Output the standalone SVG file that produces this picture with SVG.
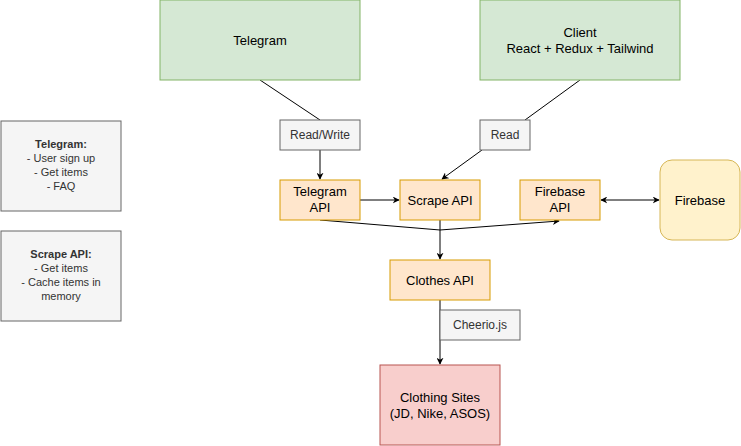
<svg xmlns="http://www.w3.org/2000/svg" width="741" height="446" viewBox="0 0 741 446">
<defs><marker id="a" viewBox="0 0 10 10" refX="9" refY="5" markerWidth="7" markerHeight="7" orient="auto-start-reverse"><path d="M0,0 L10,5 L0,10 L3,5 Z" fill="#000"/></marker></defs>
<style>
text{font-family:"Liberation Sans",Arial,sans-serif;font-size:13px;text-anchor:middle}
.g{fill:#d5e8d4;stroke:#82b366}.o{fill:#ffe6cc;stroke:#d79b00}.y{fill:#fff2cc;stroke:#d6b656}.r{fill:#f8cecc;stroke:#b85450}.l{fill:#f5f5f5;stroke:#666}
.lt{fill:#333;font-size:12px}
.n{fill:#333;font-size:11px}
.c{fill:none;stroke:#000;stroke-width:1}
</style>
<rect width="741" height="446" fill="#fff"/>
<g id="connectors">
<path class="c" d="M260,80 L320,120"/>
<path class="c" d="M580,80 L525,120"/>
<path class="c" d="M320,150 L320,179" marker-end="url(#a)"/>
<path class="c" d="M482,150 L442,179" marker-end="url(#a)"/>
<path class="c" d="M360,200 L399,200" marker-end="url(#a)"/>
<path class="c" d="M601,200 L659,200" marker-start="url(#a)" marker-end="url(#a)"/>
<path class="c" d="M440,220 L440,259" marker-end="url(#a)"/>
<path class="c" d="M320,220 L440,230 L559,221" marker-end="url(#a)"/>
<path class="c" d="M440,300 L440,364" marker-end="url(#a)"/>
</g>
<g id="telegram"><rect class="g" x="160" y="0" width="200" height="80"/><text x="260" y="45">Telegram</text></g>
<g id="client"><rect class="g" x="480" y="0" width="200" height="80"/><text x="580" y="37">Client</text><text x="580" y="53">React + Redux + Tailwind</text></g>
<g id="rw"><rect class="l" x="280" y="120" width="80" height="30"/><text class="lt" x="320" y="139">Read/Write</text></g>
<g id="read"><rect class="l" x="480" y="120" width="50" height="30"/><text class="lt" x="505" y="139">Read</text></g>
<g id="tapi"><rect class="o" x="280" y="180" width="80" height="40"/><text x="320" y="196">Telegram</text><text x="320" y="212">API</text></g>
<g id="sapi"><rect class="o" x="400" y="180" width="80" height="40"/><text x="440" y="205">Scrape API</text></g>
<g id="fapi"><rect class="o" x="520" y="180" width="80" height="40"/><text x="560" y="196">Firebase</text><text x="560" y="212">API</text></g>
<g id="firebase"><rect class="y" x="660" y="160" width="80" height="80" rx="12"/><text x="700" y="205">Firebase</text></g>
<g id="capi"><rect class="o" x="390" y="260" width="100" height="40"/><text x="440" y="285">Clothes API</text></g>
<g id="cheerio"><rect class="l" x="440" y="310" width="80" height="30"/><text class="lt" x="480" y="329">Cheerio.js</text></g>
<g id="sites"><rect class="r" x="380" y="365" width="120" height="80"/><text x="440" y="402">Clothing Sites</text><text x="440" y="418">(JD, Nike, ASOS)</text></g>
<g id="note1"><rect class="l" x="1" y="121" width="120" height="90"/>
<text class="n" x="61" y="148" font-weight="bold">Telegram:</text>
<text class="n" x="61" y="162">- User sign up</text>
<text class="n" x="61" y="176">- Get items</text>
<text class="n" x="61" y="190">- FAQ</text></g>
<g id="note2"><rect class="l" x="1" y="231" width="120" height="90"/>
<text class="n" x="61" y="258" font-weight="bold">Scrape API:</text>
<text class="n" x="61" y="272">- Get items</text>
<text class="n" x="61" y="286">- Cache items in</text>
<text class="n" x="61" y="300">memory</text></g>
</svg>
